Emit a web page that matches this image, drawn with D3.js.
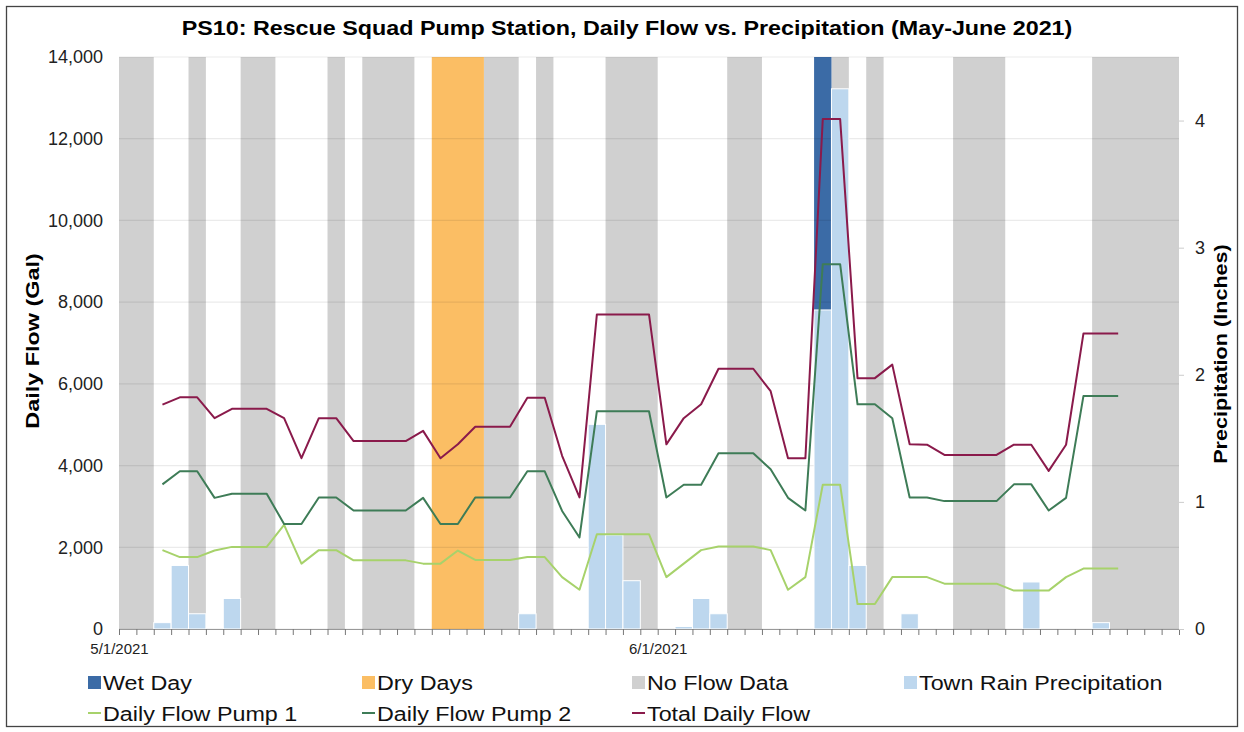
<!DOCTYPE html>
<html>
<head>
<meta charset="utf-8">
<script src="https://cdn.jsdelivr.net/npm/d3@7"></script>
<style>
  body { margin: 0; background: #fff; }
  text { font-family: "Liberation Sans", Arial, sans-serif; }
</style>
</head>
<body>
<div id="chart"></div>
<script>
// data
const noFlowDays = ['2021-05-01','2021-05-02','2021-05-05','2021-05-08','2021-05-09','2021-05-13',
  '2021-05-15','2021-05-16','2021-05-17','2021-05-22','2021-05-23','2021-05-25','2021-05-29',
  '2021-05-30','2021-05-31','2021-06-05','2021-06-06','2021-06-11','2021-06-13','2021-06-18',
  '2021-06-19','2021-06-20','2021-06-26','2021-06-27','2021-06-28','2021-06-29','2021-06-30'];
const dryDays = ['2021-05-19','2021-05-20','2021-05-21'];
const wetDays = ['2021-06-10'];

const rainDates = ['2021-05-03','2021-05-04','2021-05-05','2021-05-07','2021-05-24','2021-05-28',
  '2021-05-29','2021-05-30','2021-06-02','2021-06-03','2021-06-04','2021-06-10','2021-06-11',
  '2021-06-12','2021-06-15','2021-06-22','2021-06-26'];
const rainInches = [0.05, 0.50, 0.12, 0.24, 0.12, 1.61, 0.74, 0.38, 0.02, 0.24, 0.12, 2.51, 4.25,
  0.50, 0.12, 0.37, 0.05];

// flow series start 5/3/2021, one value per day
const flowStart = '2021-05-03';
const pump1 = [1930,1760,1760,1920,2010,2010,2010,2550,1600,
  1930,1930,1680,1680,1680,1680,1600,1600,1920,1690,
  1690,1690,1760,1760,1270,960,2320,2320,2320,2320,
  1270,1600,1930,2020,2020,2020,1930,960,1270,3530,
  3530,610,610,1270,1270,1270,1110,1110,1110,1110,
  940,940,940,1270,1480,1480,1480];
const pump2 = [3540,3860,3860,3210,3310,3310,3310,2570,2570,
  3220,3220,2900,2900,2900,2900,3210,2570,2570,3220,
  3220,3220,3860,3860,2890,2240,5330,5330,5330,5330,
  3220,3530,3530,4300,4300,4300,3910,3210,2900,8930,
  8930,5500,5500,5160,3220,3220,3130,3130,3130,3130,
  3540,3540,2900,3210,5700,5700,5700];
const totalFlow = [5490,5670,5670,5160,5390,5390,5390,5160,4180,
  5160,5160,4600,4600,4600,4600,4850,4180,4520,4950,
  4950,4950,5660,5660,4240,3220,7700,7700,7700,7700,
  4520,5160,5500,6370,6370,6370,5820,4180,4180,12480,
  12480,6140,6140,6470,4520,4510,4260,4260,4260,4260,
  4510,4510,3870,4510,7230,7230,7230];

const flowTicks = [0, 2000, 4000, 6000, 8000, 10000, 12000, 14000];
const rainTicks = [0, 1, 2, 3, 4];

const chartTitle = 'PS10: Rescue Squad Pump Station, Daily Flow vs. Precipitation (May-June 2021)';

const colors = {
  noFlow: '#d0d0d0', dry: '#fbbe64', wet: '#3b6ba6', rain: '#bdd7ee',
  pump1: '#a7d26b', pump2: '#3e7c57', total: '#8a1a4b'
};

const W = 1244, H = 732;
const margin = {top: 57, right: 65, bottom: 103, left: 119};
const plotW = W - margin.left - margin.right,
      plotH = H - margin.top - margin.bottom;

const parse = d3.timeParse('%Y-%m-%d');
const day0 = parse('2021-05-01'), dayEnd = parse('2021-07-01');

const svg = d3.select('#chart')
  .append('svg')
  .attr('width', W)
  .attr('height', H);

// outer frame
svg.append('rect')
  .attr('x', 6.5).attr('y', 6.5)
  .attr('width', 1231).attr('height', 720)
  .attr('fill', 'none')
  .attr('stroke', '#444')
  .attr('stroke-width', 1.3);

const g = svg.append('g')
  .attr('transform', `translate(${margin.left},${margin.top})`);

const x = d3.scaleTime().domain([day0, dayEnd]).range([0, plotW]);
const y = d3.scaleLinear().domain([0, 14000]).range([plotH, 0]);
const y2 = d3.scaleLinear().domain([0, 4.5]).range([plotH, 0]);

// join consecutive days into one span so no seams show
function toRuns(days) {
  const runs = [];
  days.map(parse).sort((a, b) => a - b).forEach(d => {
    const last = runs[runs.length - 1];
    if (last && +last[1] === +d) last[1] = d3.timeDay.offset(d, 1);
    else runs.push([d, d3.timeDay.offset(d, 1)]);
  });
  return runs;
}

// full height background bands
function bands(days, color) {
  g.append('g')
    .selectAll('rect')
    .data(toRuns(days))
    .enter()
    .append('rect')
    .attr('x', d => x(d[0]))
    .attr('width', d => x(d[1]) - x(d[0]))
    .attr('y', 0)
    .attr('height', plotH)
    .attr('fill', color);
}
bands(noFlowDays, colors.noFlow);
bands(dryDays, colors.dry);
bands(wetDays, colors.wet);

// gridlines
g.append('g')
  .selectAll('line')
  .data(flowTicks)
  .enter()
  .append('line')
  .attr('x1', 0).attr('x2', plotW)
  .attr('y1', d => y(d)).attr('y2', d => y(d))
  .attr('stroke', '#000')
  .attr('stroke-opacity', 0.08)
  .attr('stroke-width', 1.2);

// rain bars (secondary axis)
g.append('g')
  .selectAll('rect')
  .data(rainDates.map((d, i) => ({date: parse(d), v: rainInches[i]})))
  .enter()
  .append('rect')
  .attr('x', d => x(d.date))
  .attr('width', d => x(d3.timeDay.offset(d.date, 1)) - x(d.date))
  .attr('y', d => y2(d.v))
  .attr('height', d => plotH - y2(d.v))
  .attr('fill', colors.rain)
  .attr('stroke', '#fff')
  .attr('stroke-width', 1);

// flow lines
const start = parse(flowStart);
const mid = i => d3.timeHour.offset(d3.timeDay.offset(start, i), 12);
const line = d3.line()
  .x((d, i) => x(mid(i)))
  .y(d => y(d));

[[pump1, colors.pump1], [pump2, colors.pump2], [totalFlow, colors.total]].forEach(([vals, c]) => {
  g.append('path')
    .datum(vals)
    .attr('fill', 'none')
    .attr('stroke', c)
    .attr('stroke-width', 2)
    .attr('stroke-linejoin', 'round')
    .attr('d', line);
});

// x axis
const xAxis = g.append('g')
  .attr('transform', `translate(0,${plotH})`)
  .call(d3.axisBottom(x)
    .ticks(d3.timeDay.every(1))
    .tickSize(6)
    .tickSizeOuter(0)
    .tickFormat(d => (d.getDate() === 1 && d < dayEnd) ? d3.timeFormat('%-m/%-d/%Y')(d) : ''));
xAxis.select('.domain').attr('stroke', '#999');
xAxis.selectAll('.tick line').attr('stroke', '#777');
xAxis.selectAll('.tick text')
  .attr('dy', '1.05em')
  .attr('fill', '#222')
  .style('font-size', '15px');

// left axis
const yAxis = g.append('g')
  .call(d3.axisLeft(y).tickValues(flowTicks).tickSize(0).tickPadding(16).tickFormat(d3.format(',')));
yAxis.select('.domain').remove();
yAxis.selectAll('text').attr('fill', '#222').style('font-size', '18px');

// right axis
const y2Axis = g.append('g')
  .attr('transform', `translate(${plotW},0)`)
  .call(d3.axisRight(y2).tickValues(rainTicks).tickSize(5).tickPadding(11).tickFormat(d3.format('d')));
y2Axis.select('.domain').remove();
y2Axis.selectAll('.tick line').attr('stroke', '#ccc');
y2Axis.selectAll('text').attr('fill', '#222').style('font-size', '18px');

// title
svg.append('text')
  .attr('transform', 'translate(627,35) scale(1.11,1)')
  .attr('text-anchor', 'middle')
  .style('font-size', '21px')
  .style('font-weight', 'bold')
  .text(chartTitle);

// axis titles
svg.append('text')
  .attr('transform', 'translate(39,341) rotate(-90) scale(1.3,1)')
  .attr('text-anchor', 'middle')
  .style('font-size', '18px')
  .style('font-weight', 'bold')
  .text('Daily Flow (Gal)');

svg.append('text')
  .attr('transform', 'translate(1227,354) rotate(-90) scale(1.2,1)')
  .attr('text-anchor', 'middle')
  .style('font-size', '18px')
  .style('font-weight', 'bold')
  .text('Precipitation (Inches)');

// legend
const legendItems = [
  {label: 'Wet Day', color: colors.wet, type: 'box', col: 0, row: 0},
  {label: 'Dry Days', color: colors.dry, type: 'box', col: 1, row: 0},
  {label: 'No Flow Data', color: colors.noFlow, type: 'box', col: 2, row: 0},
  {label: 'Town Rain Precipitation', color: colors.rain, type: 'box', col: 3, row: 0},
  {label: 'Daily Flow Pump 1', color: colors.pump1, type: 'line', col: 0, row: 1},
  {label: 'Daily Flow Pump 2', color: colors.pump2, type: 'line', col: 1, row: 1},
  {label: 'Total Daily Flow', color: colors.total, type: 'line', col: 2, row: 1}
];
const colX = [88, 362, 632, 904];
const rowY = [682, 713];

const legend = svg.append('g');
legendItems.forEach(it => {
  const lx = colX[it.col], ly = rowY[it.row];
  if (it.type === 'box') {
    legend.append('rect')
      .attr('x', lx).attr('y', ly - 6)
      .attr('width', 13).attr('height', 13)
      .attr('fill', it.color);
  } else {
    legend.append('line')
      .attr('x1', lx).attr('x2', lx + 13)
      .attr('y1', ly).attr('y2', ly)
      .attr('stroke', it.color)
      .attr('stroke-width', 2);
  }
  legend.append('text')
    .attr('transform', `translate(${lx + 15},${ly + 8}) scale(1.11,1)`)
    .style('font-size', '21px')
    .attr('fill', '#111')
    .text(it.label);
});
</script>
</body>
</html>
